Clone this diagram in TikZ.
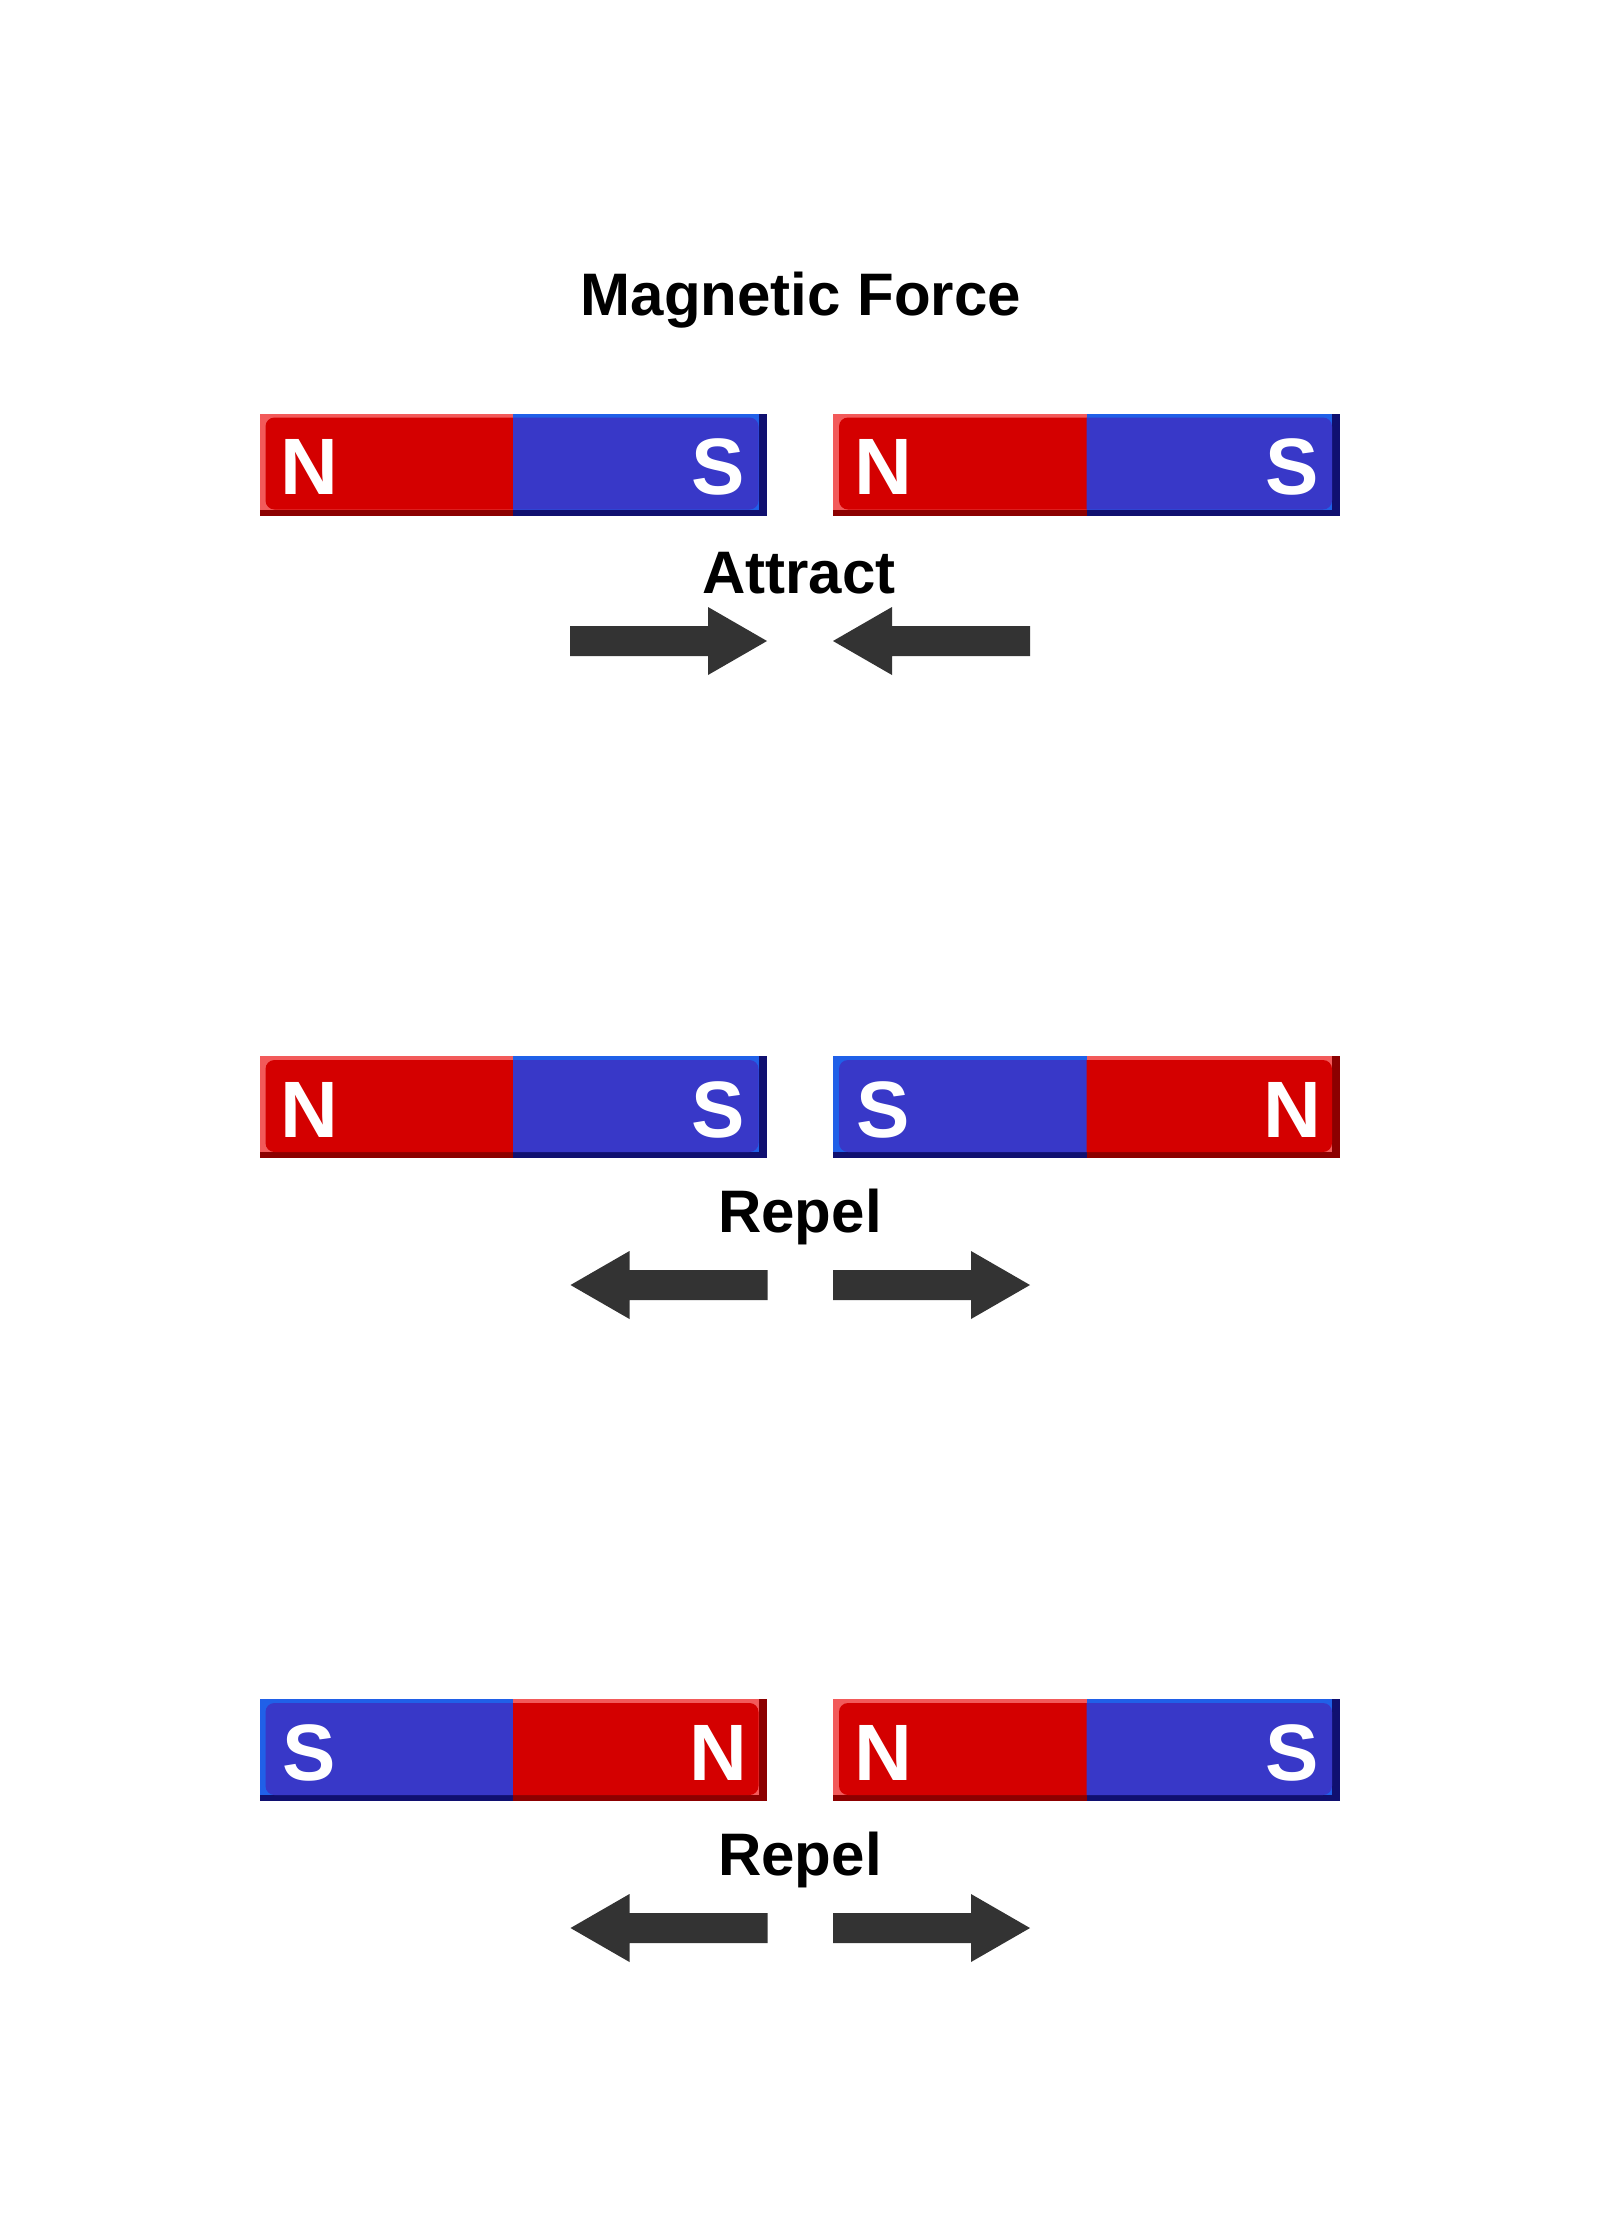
\documentclass[tikz,border=0pt]{standalone}
\usepackage{fontspec}
\setmainfont{Liberation Sans}
\definecolor{redbody}{RGB}{212,0,0}
\definecolor{redlight}{RGB}{242,90,90}
\definecolor{reddark}{RGB}{140,0,0}
\definecolor{blubody}{RGB}{56,56,200}
\definecolor{blulight}{RGB}{32,96,232}
\definecolor{bludark}{RGB}{16,16,112}
\definecolor{arrowgray}{RGB}{51,51,51}
\tikzset{
  poletext/.style={text=white, font=\bfseries\fontsize{80}{82}\selectfont, inner sep=0pt, anchor=base},
  labeltext/.style={text=black, font=\bfseries\fontsize{60}{62}\selectfont, inner sep=0pt, anchor=base},
  arrowfill/.style={fill=arrowgray},
}
% #1 x0, #2 y0, #3 left colour, #4 right colour, #5 left letter, #6 right letter, #7 name prefix
\newcommand{\mymagnet}[7]{%
  \begin{scope}[shift={(#1,#2)}]
    \fill[#3dark] (0,0) rectangle (254,102);
    \fill[#3light] (0,0) rectangle (254,96);
    \fill[#3body, rounded corners=9] (255,4) -- (6,4) -- (6,96) -- (255,96);
    \fill[#4dark] (253.5,0) rectangle (507,102);
    \fill[#4light] (253.5,0) rectangle (499,96);
    \fill[#4body, rounded corners=9] (253.5,4) -- (499,4) -- (499,96) -- (253.5,96);
    \node[poletext] (#7L) at (50,81) {#5};
    \node[poletext] (#7R) at (459,81) {#6};
  \end{scope}}
% right-pointing arrow: #1 x start, #2 y centre
\newcommand{\arrowRight}[2]{%
  \fill[arrowfill] (#1,#2-15) -- ++(138,0) -- ++(0,-19) -- ++(59,34) -- ++(-59,34) -- ++(0,-19) -- ++(-138,0) -- cycle;}
% left-pointing arrow: #1 x tip, #2 y centre
\newcommand{\arrowLeft}[2]{%
  \fill[arrowfill] (#1,#2) -- ++(59,-34) -- ++(0,19) -- ++(138,0) -- ++(0,30) -- ++(-138,0) -- ++(0,19) -- cycle;}
\begin{document}
\begin{tikzpicture}[x=1pt,y=-1pt]
  \useasboundingbox[fill=white] (0,0) rectangle (1600,2236);
  \node[labeltext] (title) at (801,315) {Magnetic Force};
  % row 1
  \mymagnet{259.5}{413.5}{red}{blu}{N}{S}{aA}
  \mymagnet{833}{413.5}{red}{blu}{N}{S}{aB}
  \node[labeltext] (lab1) at (799,593) {Attract};
  \arrowRight{570}{641}
  \arrowLeft{833}{641}
  % row 2
  \mymagnet{259.5}{1056}{red}{blu}{N}{S}{bA}
  \mymagnet{833}{1056}{blu}{red}{S}{N}{bB}
  \node[labeltext] (lab2) at (800,1232) {Repel};
  \arrowLeft{570.5}{1285}
  \arrowRight{833}{1285}
  % row 3
  \mymagnet{259.5}{1699}{blu}{red}{S}{N}{cA}
  \mymagnet{833}{1699}{red}{blu}{N}{S}{cB}
  \node[labeltext] (lab3) at (800,1875) {Repel};
  \arrowLeft{570.5}{1928}
  \arrowRight{833}{1928}
\end{tikzpicture}
\end{document}
